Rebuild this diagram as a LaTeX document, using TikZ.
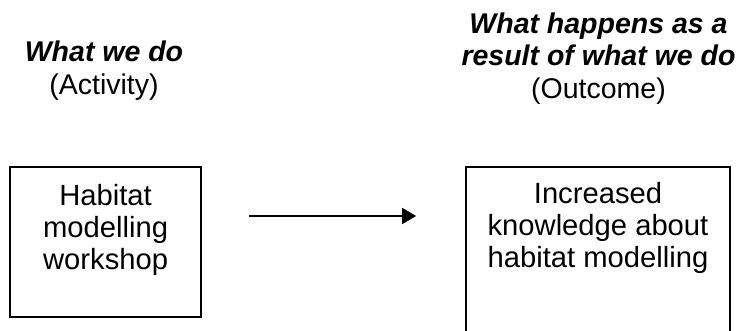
\documentclass[tikz,border=0pt]{standalone}
\usepackage{fontspec}
\setmainfont{Liberation Sans}
\usetikzlibrary{arrows.meta}
\begin{document}
\begin{tikzpicture}[x=1pt,y=1pt,
  every node/.style={inner sep=0pt},
  box/.style={draw, line width=1.6pt},
  txt/.style={align=center, anchor=north, font=\fontsize{29.2}{32}\selectfont},
  head/.style={align=center, anchor=north, font=\fontsize{28.5}{32.5}\selectfont},
  arr/.style={line width=1.6pt, -{Triangle[length=14pt,width=16pt]}}]
\useasboundingbox (0,0) rectangle (744,-331);
\clip (0,0) rectangle (744,-331);
% headers
\node[head] (acthead) at (104,-40.9) {\textbf{\textit{What we do}}\\(Activity)};
\node[head] (outhead) at (598.5,-12.5) {\textbf{\textit{What happens as a}}\\\textbf{\textit{result of what we do}}\\(Outcome)};
% boxes
\node[box, minimum width=191pt, minimum height=150pt] (act) at (105.6,-242) {};
\node[box, minimum width=264pt, minimum height=200pt] (out) at (598,-267) {};
% box texts
\node[txt] (acttext) at ([yshift=-17.7pt]act.north) {Habitat\\modelling\\workshop};
\node[txt] (outtext) at ([yshift=-16.3pt]out.north) {Increased\\knowledge about\\habitat modelling};
% connector
\draw[arr, shorten >=49pt] ([xshift=47.4pt,yshift=26pt]act.east) -- ([yshift=26pt]act.east -| out.west);
\end{tikzpicture}
\end{document}
